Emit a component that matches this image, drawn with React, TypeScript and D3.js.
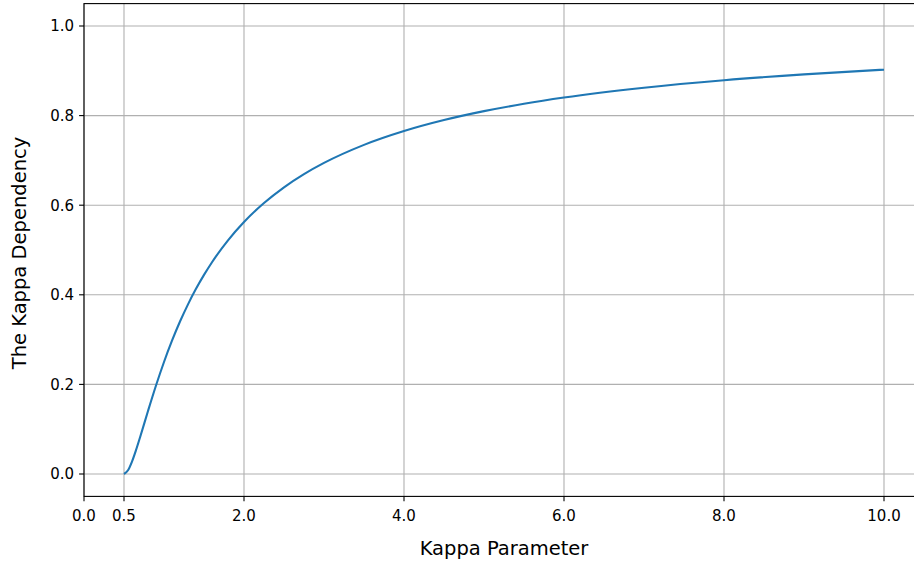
import React from "react";
import * as d3 from "d3";

const kappa: number[] = [0.5, 0.55, 0.6, 0.65, 0.7, 0.8, 0.9, 1.0, 1.1, 1.2, 1.3, 1.4, 1.5, 1.6, 1.8, 2.0, 2.25, 2.5, 2.75, 3.0, 3.5, 4.0, 4.5, 5.0, 5.5, 6.0, 7.0, 8.0, 9.0, 10.0];
const dependency: number[] = [0, 0.0083, 0.0278, 0.0533, 0.0816, 0.1406, 0.1975, 0.25, 0.2975, 0.3403, 0.3787, 0.4133, 0.4444, 0.4727, 0.5216, 0.5625, 0.6049, 0.64, 0.6694, 0.6944, 0.7347, 0.7656, 0.7901, 0.81, 0.8264, 0.8403, 0.8622, 0.8789, 0.892, 0.9025];
const xTicks: number[] = [0.0, 0.5, 2.0, 4.0, 6.0, 8.0, 10.0];
const yTicks: number[] = [0.0, 0.2, 0.4, 0.6, 0.8, 1.0];
const xLabel = "Kappa Parameter";
const yLabel = "The Kappa Dependency";

const W = 914;
const H = 564;
const left = 84;
const right = 914;
const top = 3.6;
const bottom = 496.4;
const font = "'DejaVu Sans', sans-serif";

export default function App() {
  const x = d3.scaleLinear().domain([0, 10.375]).range([left, right]);
  const y = d3.scaleLinear().domain([-0.05, 1.05]).range([bottom, top]);
  const pts: [number, number][] = kappa.map((k, i) => [k, dependency[i]]);
  const line = d3
    .line<[number, number]>()
    .x((d) => x(d[0]))
    .y((d) => y(d[1]))
    .curve(d3.curveMonotoneX);

  return (
    <svg
      width={W}
      height={H}
      style={{ position: "fixed", left: 0, top: 0, background: "#fff" }}
      fontFamily={font}
    >
      <rect x={0} y={0} width={W} height={H} fill="#fff" />
      <g stroke="#b0b0b0" strokeWidth={1.1}>
        {xTicks.map((t) => (
          <line key={"gx" + t} x1={x(t)} x2={x(t)} y1={top} y2={bottom} />
        ))}
        {yTicks.map((t) => (
          <line key={"gy" + t} x1={left} x2={right + 2} y1={y(t)} y2={y(t)} />
        ))}
      </g>
      <path d={line(pts) || ""} fill="none" stroke="#1f77b4" strokeWidth={2.1} strokeLinejoin="round" strokeLinecap="butt" />
      <rect x={left} y={top} width={right + 1.5 - left} height={bottom - top} fill="none" stroke="#000" strokeWidth={1.1} />
      <g>
        {xTicks.map((t) => (
          <g key={"xt" + t}>
            <line x1={x(t)} x2={x(t)} y1={bottom} y2={bottom + 4.9} stroke="#000" strokeWidth={1.1} />
            <text x={x(t)} y={bottom + 25} textAnchor="middle" fontSize={15} fill="#000">
              {t.toFixed(1)}
            </text>
          </g>
        ))}
      </g>
      <g>
        {yTicks.map((t) => (
          <g key={"yt" + t}>
            <line x1={left - 4.9} x2={left} y1={y(t)} y2={y(t)} stroke="#000" strokeWidth={1.1} />
            <text x={left - 10} y={y(t) + 5.4} textAnchor="end" fontSize={15} fill="#000">
              {t.toFixed(1)}
            </text>
          </g>
        ))}
      </g>
      <text x={504} y={555} textAnchor="middle" fontSize={19.5} fill="#000">
        {xLabel}
      </text>
      <text
        transform={`translate(26, ${(top + bottom) / 2 + 3}) rotate(-90)`}
        textAnchor="middle"
        fontSize={19.5}
        fill="#000"
      >
        {yLabel}
      </text>
    </svg>
  );
}
